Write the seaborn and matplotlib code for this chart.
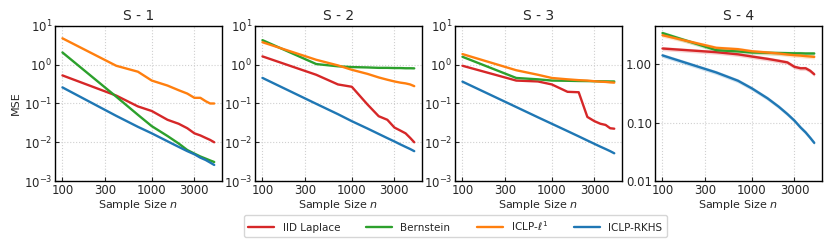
import numpy as np
import pandas as pd
import seaborn as sns
import matplotlib
matplotlib.use("Agg")
from matplotlib import pyplot as plt
from matplotlib.ticker import FixedLocator, FuncFormatter, NullLocator, LogLocator, LogFormatterSciNotation

sns.set_style("ticks")
plt.rcParams["font.family"] = ["DejaVu Sans"]

# sample sizes
N = [100, 400, 700, 1000, 1500, 2000, 2500, 3000, 3500, 4000, 4500, 5000]

METHODS = ["IID Laplace", "Bernstein", r"ICLP-$\ell^1$", "ICLP-RKHS"]
COLORS = ["#d62728", "#2ca02c", "#ff7f0e", "#1f77b4"]
PANELS = ["S - 1", "S - 2", "S - 3", "S - 4"]

# S - 1
s1_iid = [0.53, 0.16, 0.084, 0.064, 0.038, 0.030, 0.023, 0.017, 0.015, 0.013, 0.0115, 0.010]
s1_bern = [2.07, 0.15, 0.051, 0.026, 0.0145, 0.0093, 0.0063, 0.0051, 0.0043, 0.0038, 0.0034, 0.0031]
s1_l1 = [4.8, 0.94, 0.66, 0.39, 0.29, 0.22, 0.18, 0.14, 0.14, 0.115, 0.10, 0.10]
s1_rkhs = [0.26, 0.048, 0.025, 0.017, 0.0106, 0.0076, 0.0059, 0.0049, 0.0040, 0.0035, 0.0030, 0.0026]

# S - 2
s2_iid = [1.64, 0.55, 0.31, 0.27, 0.094, 0.047, 0.038, 0.024, 0.020, 0.017, 0.013, 0.010]
s2_bern = [4.3, 1.04, 0.91, 0.87, 0.85, 0.83, 0.83, 0.82, 0.82, 0.81, 0.81, 0.805]
s2_l1 = [3.8, 1.34, 0.96, 0.74, 0.58, 0.47, 0.41, 0.37, 0.345, 0.33, 0.31, 0.28]
s2_rkhs = [0.457, 0.098, 0.053, 0.035, 0.0226, 0.0164, 0.0128, 0.0105, 0.0088, 0.0076, 0.0067, 0.0059]

# S - 3
s3_iid = [0.94, 0.39, 0.37, 0.31, 0.20, 0.195, 0.045, 0.035, 0.030, 0.028, 0.023, 0.0224]
s3_bern = [1.6, 0.455, 0.42, 0.39, 0.385, 0.38, 0.378, 0.375, 0.373, 0.372, 0.37, 0.37]
s3_l1 = [1.88, 0.72, 0.55, 0.455, 0.42, 0.40, 0.39, 0.375, 0.365, 0.36, 0.35, 0.345]
s3_rkhs = [0.366, 0.081, 0.044, 0.030, 0.0194, 0.0142, 0.0111, 0.0091, 0.0077, 0.0067, 0.0059, 0.0052]

# S - 4
s4_iid = [1.85, 1.6, 1.47, 1.35, 1.23, 1.14, 1.07, 0.9, 0.85, 0.85, 0.77, 0.67]
s4_bern = [3.4, 1.73, 1.65, 1.58, 1.56, 1.55, 1.54, 1.53, 1.53, 1.52, 1.52, 1.52]
s4_l1 = [3.12, 1.9, 1.8, 1.66, 1.58, 1.52, 1.46, 1.42, 1.40, 1.37, 1.35, 1.33]
s4_rkhs = [1.41, 0.72, 0.52, 0.385, 0.26, 0.187, 0.14, 0.108, 0.083, 0.068, 0.055, 0.045]

S4_BAND = 0.08  # relative half-width of shaded band in S - 4

series = {
    "S - 1": [s1_iid, s1_bern, s1_l1, s1_rkhs],
    "S - 2": [s2_iid, s2_bern, s2_l1, s2_rkhs],
    "S - 3": [s3_iid, s3_bern, s3_l1, s3_rkhs],
    "S - 4": [s4_iid, s4_bern, s4_l1, s4_rkhs],
}

rows = []
for panel, vals in series.items():
    for method, ys in zip(METHODS, vals):
        for n, y in zip(N, ys):
            rows.append({"panel": panel, "method": method, "n": n, "mse": y})
df = pd.DataFrame(rows)

fig, axes = plt.subplots(1, 4, figsize=(8.31, 2.47), dpi=100)
fig.subplots_adjust(left=0.066, right=0.989, bottom=0.267, top=0.895, wspace=0.198)

palette = dict(zip(METHODS, COLORS))
for i, (ax, panel) in enumerate(zip(axes, PANELS)):
    sub = df[df["panel"] == panel]
    sns.lineplot(data=sub, x="n", y="mse", hue="method", hue_order=METHODS,
                 palette=palette, linewidth=1.7, ax=ax, legend=False)
    ax.set_xscale("log")
    ax.set_yscale("log")
    if panel == "S - 4":
        for method in METHODS:
            m = sub[sub["method"] == method]
            ax.fill_between(m["n"], m["mse"] * (1 - S4_BAND), m["mse"] * (1 + S4_BAND),
                            color=palette[method], alpha=0.2, linewidth=0)
        ax.set_ylim(0.01, 4.5)
        ax.yaxis.set_major_locator(FixedLocator([0.01, 0.1, 1.0]))
        ax.yaxis.set_major_formatter(FuncFormatter(lambda v, p: f"{v:.2f}"))
    else:
        ax.set_ylim(1e-3, 1e1)
        ax.yaxis.set_major_locator(LogLocator(base=10, numticks=10))
        ax.yaxis.set_major_formatter(LogFormatterSciNotation())
    ax.yaxis.set_minor_locator(NullLocator())
    ax.xaxis.set_major_locator(FixedLocator([100, 300, 1000, 3000]))
    ax.xaxis.set_major_formatter(FuncFormatter(lambda v, p: f"{int(v)}"))
    ax.xaxis.set_minor_locator(NullLocator())
    ax.grid(True, which="major", linestyle=":", color="#d0d0d0", linewidth=0.8)
    ax.tick_params(direction="in", labelsize=8.5, length=3, width=0.8, pad=2)
    for s in ax.spines.values():
        s.set_color("black")
        s.set_linewidth(1.0)
    ax.set_title(panel, fontsize=10, pad=4)
    ax.set_xlabel("Sample Size $n$", fontsize=8, labelpad=1)
    ax.set_ylabel("MSE" if i == 0 else "", fontsize=8, labelpad=2)

handles = [plt.Line2D([], [], color=c, linewidth=1.7) for c in COLORS]
fig.legend(handles, METHODS, loc="lower center", bbox_to_anchor=(0.548, 0.02), ncol=4,
           fontsize=7.5, frameon=True, handlelength=2.5, columnspacing=2.5,
           edgecolor="#cccccc", fancybox=True)

fig.savefig("out.png", dpi=100)
